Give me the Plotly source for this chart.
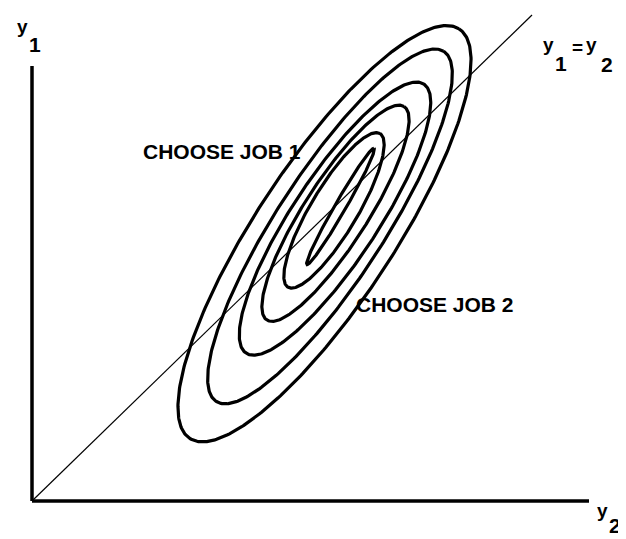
import numpy as np
import plotly.graph_objects as go

# Contour ellipses (data units: y2 horizontal, y1 vertical)
ellipse_cx = [5.85, 5.96, 6.06, 6.07, 6.04, 6.17]
ellipse_cy = [5.50, 5.65, 5.81, 5.92, 5.98, 6.06]
semi_major = [5.00, 4.26, 3.29, 2.59, 1.83, 1.37]
semi_minor = [1.39, 1.08, 0.86, 0.64, 0.47, 0.11]
angle_deg = [57.5, 57.8, 57.4, 58.1, 59.9, 60.7]

# 45-degree line y1 = y2
diag_vals = [0, 10]

# axis extents
y2_axis_len = 11.14
y1_axis_len = 8.95

fig = go.Figure()

t = np.linspace(0, 2 * np.pi, 361)
for cx, cy, a, b, ang in zip(ellipse_cx, ellipse_cy, semi_major, semi_minor, angle_deg):
    th = np.deg2rad(ang)
    x = cx + a * np.cos(th) * np.cos(t) - b * np.sin(th) * np.sin(t)
    y = cy + a * np.sin(th) * np.cos(t) + b * np.cos(th) * np.sin(t)
    fig.add_trace(go.Scatter(x=x, y=y, mode="lines",
                             line=dict(color="black", width=3.2),
                             hoverinfo="skip", showlegend=False))

fig.add_trace(go.Scatter(x=diag_vals, y=diag_vals, mode="lines",
                         line=dict(color="black", width=1.2),
                         hoverinfo="skip", showlegend=False))

# axes drawn as lines
fig.add_trace(go.Scatter(x=[0, y2_axis_len], y=[0, 0], mode="lines",
                         line=dict(color="black", width=3.5),
                         hoverinfo="skip", showlegend=False))
fig.add_trace(go.Scatter(x=[0, 0], y=[0, y1_axis_len], mode="lines",
                         line=dict(color="black", width=3.5),
                         hoverinfo="skip", showlegend=False))

FONT = "Liberation Sans"

def px_ann(text, px, py, size, anchor="center"):
    # position given in pixel coordinates of the 626x539 canvas
    fig.add_annotation(x=px / 626, y=1 - py / 539, xref="paper", yref="paper",
                       text="<b>%s</b>" % text, showarrow=False,
                       xanchor=anchor, yanchor="middle",
                       font=dict(family=FONT, size=size, color="black"))

# labels
px_ann("CHOOSE JOB 1", 133, 143, 21, "left")
px_ann("CHOOSE JOB 2", 346, 297, 21, "left")

# y1 at top-left
px_ann("y", 14, 19, 19)
px_ann("1", 27, 36, 21)
# y1 = y2 at top-right
px_ann("y", 540, 36, 19)
px_ann("1", 553, 55, 21)
px_ann("=", 569, 39, 19)
px_ann("y", 583, 36, 19)
px_ann("2", 599, 57, 21)
# y2 at bottom-right
px_ann("y", 594, 503, 19)
px_ann("2", 607, 517, 21)

fig.update_layout(
    width=626, height=539,
    margin=dict(l=0, r=0, t=0, b=0),
    paper_bgcolor="white", plot_bgcolor="white",
    xaxis=dict(range=[-24 / 50, 602 / 50], visible=False, fixedrange=True),
    yaxis=dict(range=[-46 / 48.6, 493 / 48.6], visible=False, fixedrange=True),
    showlegend=False,
)

fig.write_html("out.html")
